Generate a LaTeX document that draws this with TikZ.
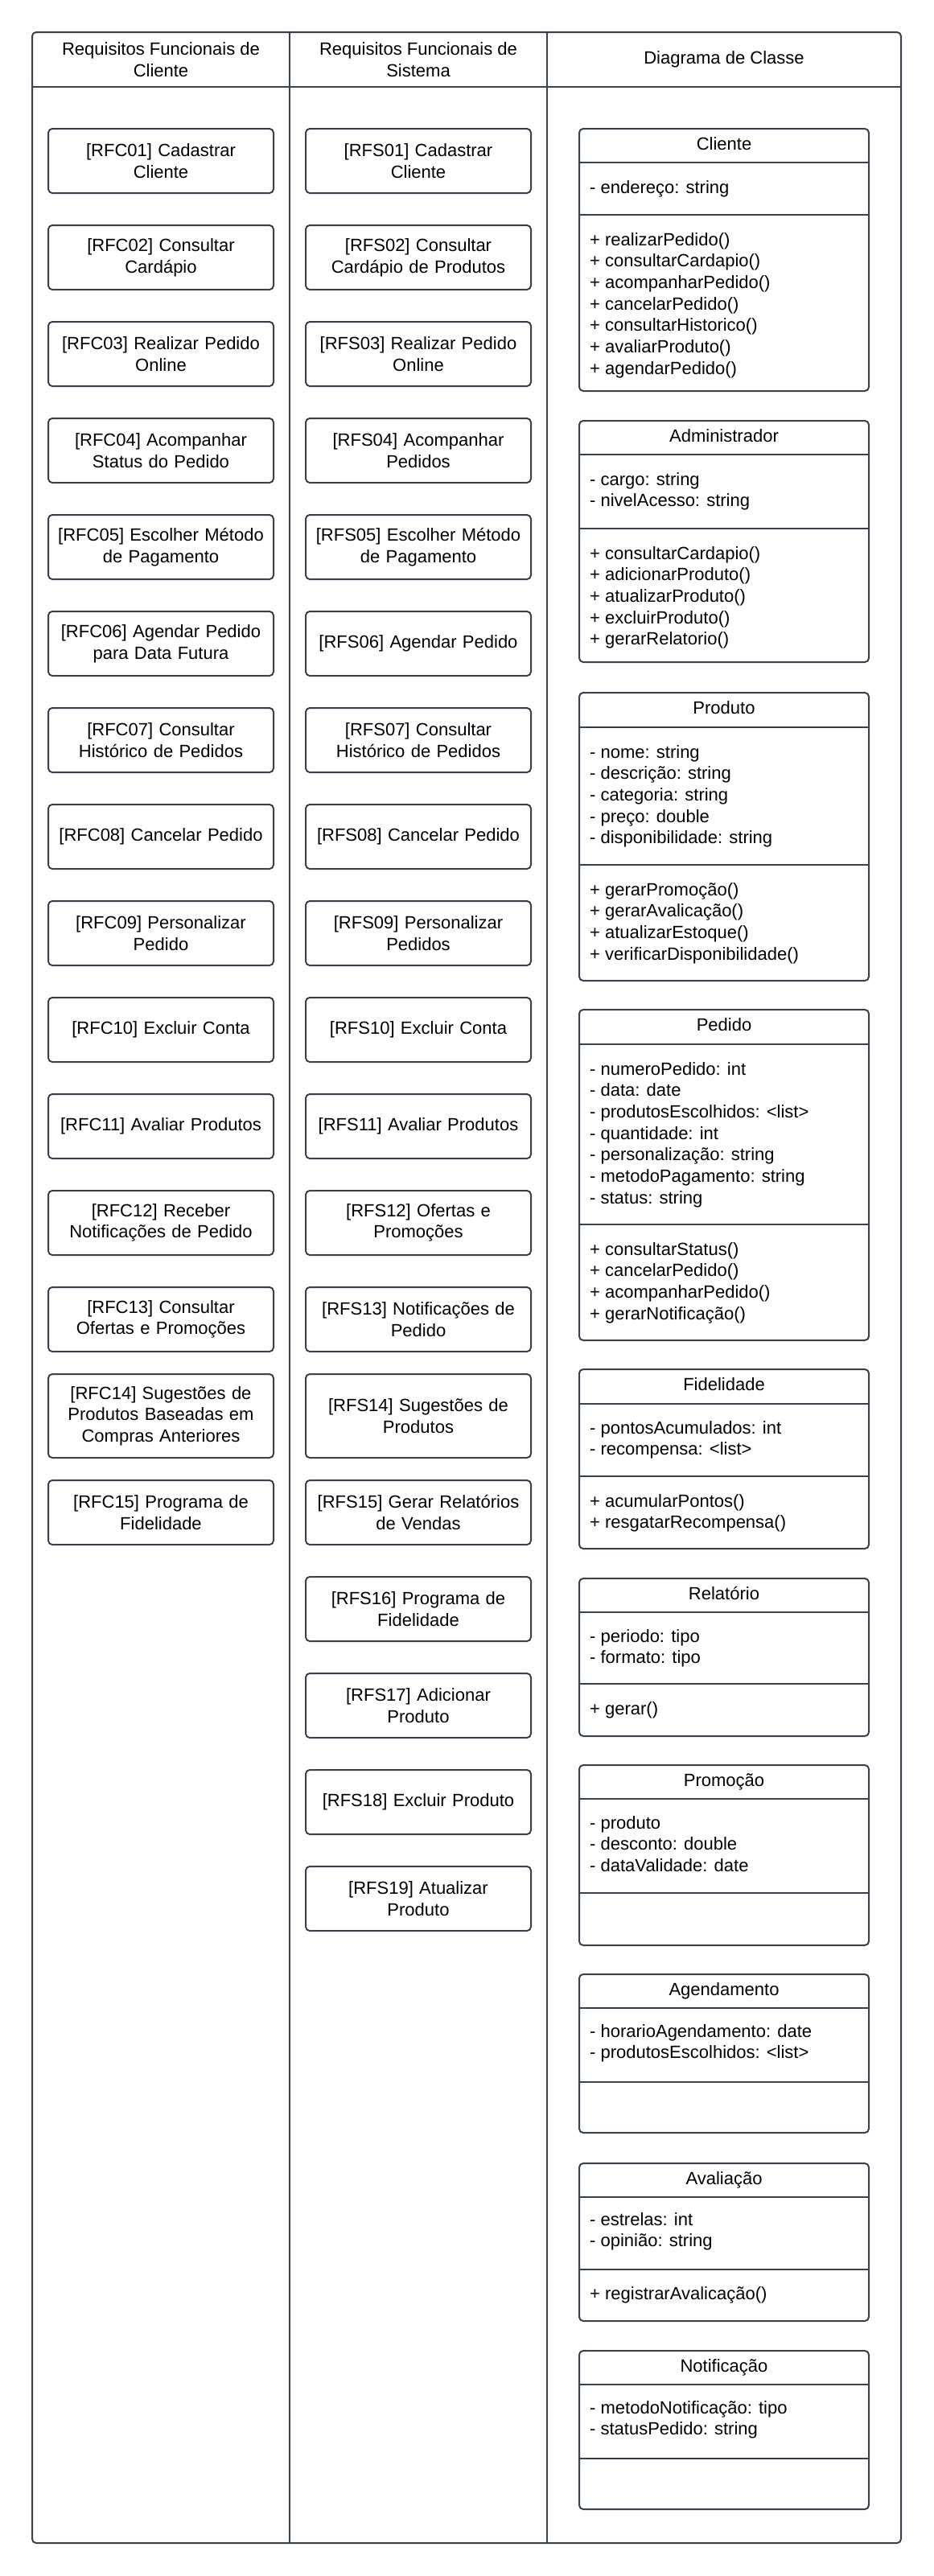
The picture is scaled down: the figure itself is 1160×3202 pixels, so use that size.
\documentclass[tikz,border=0pt]{standalone}
\usepackage{fontspec}
\setmainfont{Liberation Sans}
\definecolor{strk}{HTML}{3A414A}
\newcommand\dgfont{\fontsize{22}{26.67}\selectfont}
\tikzset{
  ln/.style={draw=strk, line width=2pt},
  frm/.style={draw=strk, line width=2pt, rounded corners=5pt, inner sep=0pt, outer sep=0pt, anchor=north west},
  reqbox/.style={draw=strk, line width=2pt, rounded corners=5pt, inner sep=0pt, outer sep=0pt, minimum width=280pt, text width=274pt, align=center, font=\dgfont},
  classbox/.style={draw=strk, line width=2pt, rounded corners=5pt, inner sep=0pt, outer sep=0pt, minimum width=360pt, anchor=north west},
  ctitle/.style={anchor=base, inner sep=0pt, font=\dgfont},
  member/.style={anchor=base west, inner sep=0pt, font=\dgfont},
  hdrtext/.style={align=center, inner sep=0pt, font=\dgfont},
}
% requirement box: name, x centre, top, bottom, text
\newcommand\req[5]{\node[reqbox, minimum height={#4-#3}] (#1) at (#2,{(#3+#4)/2}) {\relax#5};}
% class box: name, top, header line, separator, bottom, title
\newcommand\umlclass[6]{%
  \node[classbox, minimum height={#5-#2}] (#1) at (720,#2) {};
  \draw[ln] (#1.west |- 0,#3) -- (#1.east |- 0,#3);
  \draw[ln] (#1.west |- 0,#4) -- (#1.east |- 0,#4);
  \node[ctitle] (#1T) at (900,{#2+26}) {#6};
}
% members: name, prefix, first baseline, list
\newcommand\members[4]{%
  \foreach \mtext [count=\mi] in {#4} {\node[member] (#1#2\mi) at (733,{#3+26.67*(\mi-1)}) {\mtext};}
}
\begin{document}
\begin{tikzpicture}[x=1pt, y=-1pt]
\useasboundingbox (0,0) rectangle (1160,3202);
% frame
\node[frm, minimum width=1080pt, minimum height=3121pt] (frame) at (40,40) {};
\draw[ln] (frame.west |- 0,108) -- (frame.east |- 0,108);
\coordinate (d1t) at (360,40); \coordinate (d1b) at (360,3161);
\coordinate (d2t) at (680,40); \coordinate (d2b) at (680,3161);
\draw[ln] (d1t) -- (d1b);
\draw[ln] (d2t) -- (d2b);
\node[hdrtext] (h1) at (200,74) {Requisitos Funcionais de\\Cliente};
\node[hdrtext] (h2) at (520,74) {Requisitos Funcionais de\\Sistema};
\node[hdrtext] (h3) at (900,74) {Diagrama de Classe};

% client requirements
\req{rfc01}{200}{160}{240}{[RFC01] Cadastrar\\Cliente}
\req{rfc02}{200}{280}{360}{[RFC02] Consultar\\Cardápio}
\req{rfc03}{200}{400}{480}{[RFC03] Realizar Pedido\\Online}
\req{rfc04}{200}{520}{600}{[RFC04] Acompanhar\\Status do Pedido}
\req{rfc05}{200}{640}{720}{[RFC05] Escolher Método\\de Pagamento}
\req{rfc06}{200}{760}{840}{[RFC06] Agendar Pedido\\para Data Futura}
\req{rfc07}{200}{880}{960}{[RFC07] Consultar\\Histórico de Pedidos}
\req{rfc08}{200}{1000}{1080}{[RFC08] Cancelar Pedido}
\req{rfc09}{200}{1120}{1200}{[RFC09] Personalizar\\Pedido}
\req{rfc10}{200}{1240}{1320}{[RFC10] Excluir Conta}
\req{rfc11}{200}{1360}{1440}{[RFC11] Avaliar Produtos}
\req{rfc12}{200}{1480}{1560}{[RFC12] Receber\\Notificações de Pedido}
\req{rfc13}{200}{1600}{1680}{[RFC13] Consultar\\Ofertas e Promoções}
\req{rfc14}{200}{1708}{1812}{[RFC14] Sugestões de\\Produtos Baseadas em\\Compras Anteriores}
\req{rfc15}{200}{1840}{1920}{[RFC15] Programa de\\Fidelidade}

% system requirements
\req{rfs01}{520}{160}{240}{[RFS01] Cadastrar\\Cliente}
\req{rfs02}{520}{280}{360}{[RFS02] Consultar\\Cardápio de Produtos}
\req{rfs03}{520}{400}{480}{[RFS03] Realizar Pedido\\Online}
\req{rfs04}{520}{520}{600}{[RFS04] Acompanhar\\Pedidos}
\req{rfs05}{520}{640}{720}{[RFS05] Escolher Método\\de Pagamento}
\req{rfs06}{520}{760}{840}{[RFS06] Agendar Pedido}
\req{rfs07}{520}{880}{960}{[RFS07] Consultar\\Histórico de Pedidos}
\req{rfs08}{520}{1000}{1080}{[RFS08] Cancelar Pedido}
\req{rfs09}{520}{1120}{1200}{[RFS09] Personalizar\\Pedidos}
\req{rfs10}{520}{1240}{1320}{[RFS10] Excluir Conta}
\req{rfs11}{520}{1360}{1440}{[RFS11] Avaliar Produtos}
\req{rfs12}{520}{1480}{1560}{[RFS12] Ofertas e\\Promoções}
\req{rfs13}{520}{1600}{1680}{[RFS13] Notificações de\\Pedido}
\req{rfs14}{520}{1708}{1812}{[RFS14] Sugestões de\\Produtos}
\req{rfs15}{520}{1840}{1920}{[RFS15] Gerar Relatórios\\de Vendas}
\req{rfs16}{520}{1960}{2040}{[RFS16] Programa de\\Fidelidade}
\req{rfs17}{520}{2080}{2160}{[RFS17] Adicionar\\Produto}
\req{rfs18}{520}{2200}{2280}{[RFS18] Excluir Produto}
\req{rfs19}{520}{2320}{2400}{[RFS19] Atualizar\\Produto}

% class diagram
\umlclass{cli}{160}{202}{267}{486}{Cliente}
\members{cli}{a}{240}{- endereço: string}
\members{cli}{m}{305}{+ realizarPedido(), + consultarCardapio(), + acompanharPedido(), + cancelarPedido(), + consultarHistorico(), + avaliarProduto(), + agendarPedido()}

\umlclass{adm}{523}{565}{657}{823}{Administrador}
\members{adm}{a}{603}{- cargo: string, - nivelAcesso: string}
\members{adm}{m}{695}{+ consultarCardapio(), + adicionarProduto(), + atualizarProduto(), + excluirProduto(), + gerarRelatorio()}

\umlclass{prd}{861}{904}{1075}{1219}{Produto}
\members{prd}{a}{942}{- nome: string, - descrição: string, - categoria: string, - preço: double, - disponibilidade: string}
\members{prd}{m}{1113}{+ gerarPromoção(), + gerarAvalicação(), + atualizarEstoque(), + verificarDisponibilidade()}

\umlclass{ped}{1255}{1298}{1522}{1666}{Pedido}
\members{ped}{a}{1336}{- numeroPedido: int, - data: date, - produtosEscolhidos: <list>, - quantidade: int, - personalização: string, - metodoPagamento: string, - status: string}
\members{ped}{m}{1560}{+ consultarStatus(), + cancelarPedido(), + acompanharPedido(), + gerarNotificação()}

\umlclass{fid}{1702}{1745}{1835}{1925}{Fidelidade}
\members{fid}{a}{1782}{- pontosAcumulados: int, - recompensa: <list>}
\members{fid}{m}{1873}{+ acumularPontos(), + resgatarRecompensa()}

\umlclass{rel}{1962}{2004}{2093}{2158}{Relatório}
\members{rel}{a}{2041}{- periodo: tipo, - formato: tipo}
\members{rel}{m}{2131}{+ gerar()}

\umlclass{pro}{2194}{2236}{2353}{2418}{Promoção}
\members{pro}{a}{2273}{- produto, - desconto: double, - dataValidade: date}

\umlclass{age}{2454}{2496}{2588}{2651}{Agendamento}
\members{age}{a}{2532}{- horarioAgendamento: date, - produtosEscolhidos: <list>}

\umlclass{ava}{2689}{2731}{2821}{2885}{Avaliação}
\members{ava}{a}{2766}{- estrelas: int, - opinião: string}
\members{ava}{m}{2858}{+ registrarAvalicação()}

\umlclass{ntf}{2922}{2964}{3056}{3119}{Notificação}
\members{ntf}{a}{3000}{- metodoNotificação: tipo, - statusPedido: string}
\end{tikzpicture}
\end{document}
